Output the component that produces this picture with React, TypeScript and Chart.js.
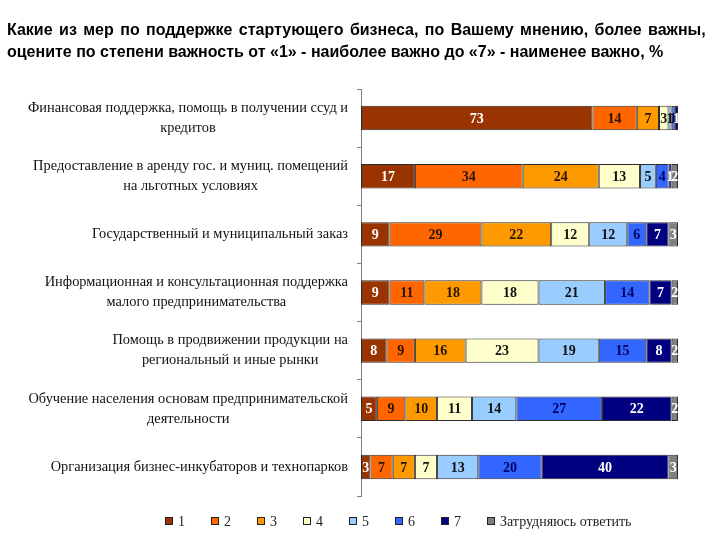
import React, { useEffect, useRef } from 'react';
import { Chart, registerables } from 'chart.js';

Chart.register(...registerables);

const titleLines = [
  'Какие из мер по поддержке стартующего бизнеса, по Вашему мнению, более важны,',
  'оцените по степени важность от «1» - наиболее важно до «7» - наименее важно, %',
];

const categories: string[][] = [
  ['Финансовая поддержка, помощь в получении ссуд и', 'кредитов'],
  ['Предоставление в аренду гос. и муниц. помещений', 'на льготных условиях'],
  ['Государственный и муниципальный заказ'],
  ['Информационная и консультационная поддержка', 'малого предпринимательства'],
  ['Помощь в продвижении продукции на', 'региональный и иные рынки'],
  ['Обучение населения основам предпринимательской', 'деятельности'],
  ['Организация бизнес-инкубаторов и технопарков'],
];

const seriesNames = ['1', '2', '3', '4', '5', '6', '7', 'Затрудняюсь ответить'];

const rank1 = [73, 17, 9, 9, 8, 5, 3];
const rank2 = [14, 34, 29, 11, 9, 9, 7];
const rank3 = [7, 24, 22, 18, 16, 10, 7];
const rank4 = [3, 13, 12, 18, 23, 11, 7];
const rank5 = [1, 5, 12, 21, 19, 14, 13];
const rank6 = [1, 4, 6, 14, 15, 27, 20];
const rank7 = [1, 1, 7, 7, 8, 22, 40];
const hardToSay = [0, 2, 3, 2, 2, 2, 3];

const seriesValues = [rank1, rank2, rank3, rank4, rank5, rank6, rank7, hardToSay];

const fillColors = ['#993300', '#FF6600', '#FF9900', '#FFFFCC', '#99CCFF', '#3366FF', '#000080', '#808080'];
const valueColors = ['#ffffff', '#2a1400', '#2a1400', '#111111', '#111111', '#000066', '#ffffff', '#ffffff'];

const SERIF = "'Liberation Serif', 'Times New Roman', serif";

const yLabelPlugin = {
  id: 'yLabelPlugin',
  afterDraw(chart: any) {
    const ctx = chart.ctx;
    const yScale = chart.scales.y;
    const rightEdge = chart.chartArea.left - 13;
    const lh = 20;
    ctx.save();
    ctx.font = `14.4px ${SERIF}`;
    ctx.fillStyle = '#111';
    ctx.textAlign = 'center';
    ctx.textBaseline = 'middle';
    categories.forEach((lines, i) => {
      const yc = yScale.getPixelForValue(i);
      const maxW = Math.max(...lines.map((l) => ctx.measureText(l).width));
      const cx = rightEdge - maxW / 2;
      const y0 = yc - ((lines.length - 1) * lh) / 2;
      lines.forEach((l, j) => ctx.fillText(l, cx, y0 + j * lh));
    });
    ctx.restore();
  },
};

const valuePlugin = {
  id: 'valuePlugin',
  afterDatasetsDraw(chart: any) {
    const ctx = chart.ctx;
    ctx.save();
    ctx.font = `bold 14px ${SERIF}`;
    ctx.textAlign = 'center';
    ctx.textBaseline = 'middle';
    chart.data.datasets.forEach((ds: any, di: number) => {
      const meta = chart.getDatasetMeta(di);
      meta.data.forEach((el: any, i: number) => {
        const v = ds.data[i];
        if (!v) return;
        const p = el.getProps(['x', 'y', 'base'], true);
        ctx.fillStyle = valueColors[di];
        ctx.fillText(String(v), (p.x + p.base) / 2, p.y + 1);
      });
    });
    ctx.restore();
  },
};

const legendPlugin = {
  id: 'legendPlugin',
  afterDraw(chart: any) {
    const ctx = chart.ctx;
    ctx.save();
    ctx.font = `14px ${SERIF}`;
    ctx.textBaseline = 'middle';
    ctx.textAlign = 'left';
    const yc = chart.chartArea.bottom + 25;
    let x = 165;
    const box = 8;
    chart.data.datasets.forEach((ds: any) => {
      ctx.fillStyle = ds.backgroundColor;
      ctx.fillRect(x, yc - box / 2, box, box);
      ctx.strokeStyle = '#222';
      ctx.lineWidth = 1;
      ctx.strokeRect(x + 0.5, yc - box / 2 + 0.5, box - 1, box - 1);
      ctx.fillStyle = '#222';
      const tx = x + box + 5;
      ctx.fillText(ds.label, tx, yc + 1);
      x = tx + ctx.measureText(ds.label).width + 26;
    });
    ctx.restore();
  },
};

export default function App() {
  const ref = useRef<HTMLCanvasElement>(null);

  useEffect(() => {
    if (!ref.current) return;
    const chart = new Chart(ref.current, {
      type: 'bar',
      data: {
        labels: categories.map((c) => c.join(' ')),
        datasets: seriesNames.map((name, i) => ({
          label: name,
          data: seriesValues[i],
          backgroundColor: fillColors[i],
          borderColor: '#2b2b2b',
          borderWidth: 1,
          borderSkipped: false,
          categoryPercentage: 1,
          barPercentage: 0.42,
        })),
      },
      options: {
        indexAxis: 'y',
        responsive: false,
        animation: false,
        layout: { padding: { top: 89, left: 7, right: 42, bottom: 44 } },
        plugins: {
          legend: { display: false },
          title: { display: false },
          tooltip: { enabled: false },
        },
        scales: {
          x: { stacked: true, min: 0, max: 100, display: false },
          y: {
            stacked: true,
            offset: true,
            ticks: { display: false },
            grid: { offset: true, drawOnChartArea: false, drawTicks: true, tickLength: 4, color: '#808080' },
            border: { display: true, color: '#808080' },
            afterFit: (scale: any) => {
              scale.width = 354;
            },
          },
        },
      },
      plugins: [yLabelPlugin, valuePlugin, legendPlugin],
    });
    return () => chart.destroy();
  }, []);

  return (
    <div style={{ position: 'absolute', left: 0, top: 0, width: 720, height: 540, background: '#fff' }}>
      <div
        style={{
          position: 'absolute',
          left: 7,
          top: 19,
          font: "bold 16px 'Liberation Sans', Arial, sans-serif",
          lineHeight: '22px',
          color: '#000',
          whiteSpace: 'nowrap',
        }}
      >
        {titleLines.map((l, i) => (
          <div key={i} style={{ wordSpacing: i === 0 ? '2px' : '0px' }}>
            {l}
          </div>
        ))}
      </div>
      <canvas ref={ref} width={720} height={540} style={{ display: 'block' }} />
    </div>
  );
}
